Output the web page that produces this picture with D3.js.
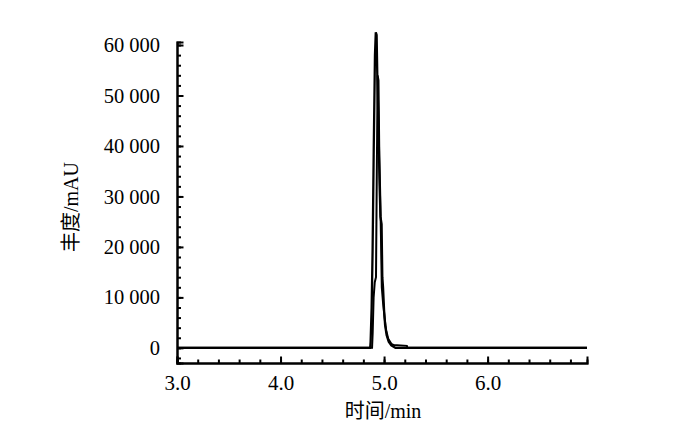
<!DOCTYPE html>
<html><head><meta charset="utf-8">
<script src="https://cdn.jsdelivr.net/npm/d3@7/dist/d3.min.js"></script>
<style>body{margin:0;background:#fff}svg{display:block}</style>
</head><body>
<svg id="c" width="690" height="442"></svg>
<script>
// Data
const xTicks = [3, 4, 5, 6];
const xTickLabels = ["3.0", "4.0", "5.0", "6.0"];
const yTicks = [0, 10000, 20000, 30000, 40000, 50000, 60000];
const yTickLabels = ["0", "10 000", "20 000", "30 000", "40 000", "50 000", "60 000"];
const traceATime = [3.00, 4.866, 4.870, 4.880, 4.889, 4.900, 4.912, 4.920, 4.928, 4.935, 4.945, 4.957, 4.965, 4.976, 4.983, 4.990, 5.000, 5.010, 5.025, 5.045, 5.070, 5.110, 6.96];
const traceAValue = [0, 0, 1200, 8000, 19000, 39000, 58000, 62500, 62000, 53500, 45000, 32000, 26000, 24500, 14000, 12000, 7500, 4500, 2500, 1200, 500, 0, 0];
const traceBTime = [3.00, 4.884, 4.890, 4.899, 4.910, 4.922, 4.930, 4.938, 4.946, 4.954, 4.962, 4.970, 4.978, 4.990, 5.005, 5.020, 5.040, 5.070, 5.100, 5.125, 5.220, 5.225, 6.96];
const traceBValue = [0, 0, 3000, 10000, 13000, 14000, 35000, 54000, 53000, 38000, 31000, 22000, 12000, 9000, 6000, 3500, 1800, 800, 500, 500, 400, 0, 0];
const xTitle = "时间/min";
const yTitle = "丰度/mAU";

const svg = d3.select("#c");
const font = "'Liberation Serif','Times New Roman','Noto Sans CJK SC',serif";
const x = d3.scaleLinear().domain([3, 6.96]).range([177, 587]);
const y = d3.scaleLinear().domain([-3000, 60600]).range([363, 42]);

// minor ticks
const xMinor = d3.range(3, 6.96, 0.2).map(v => +v.toFixed(1));
const yMinor = d3.range(-2000, 60001, 2000);

const gx = svg.append("g").attr("transform", "translate(0,363)");
gx.call(d3.axisBottom(x).tickValues(xMinor).tickSize(-3.5).tickFormat(""));
gx.append("g").call(d3.axisBottom(x).tickValues(xTicks).tickSize(-6.5).tickPadding(12)
  .tickFormat((d, i) => xTickLabels[i]));
gx.selectAll(".domain").attr("stroke", "#000").attr("stroke-width", 2);
gx.selectAll(".tick line").attr("stroke", "#000").attr("stroke-width", 2);
gx.selectAll("text").attr("font-family", font).attr("font-size", 21).attr("fill", "#000").attr("dy", "0.71em");

const gy = svg.append("g").attr("transform", "translate(177,0)");
gy.call(d3.axisLeft(y).tickValues(yMinor).tickSize(-4).tickFormat(""));
gy.append("g").call(d3.axisLeft(y).tickValues(yTicks).tickSize(-6.5).tickPadding(17)
  .tickFormat((d, i) => yTickLabels[i]));
gy.selectAll(".domain").attr("stroke", "#000").attr("stroke-width", 2);
gy.selectAll(".tick line").attr("stroke", "#000").attr("stroke-width", 2);
gy.selectAll("text").attr("font-family", font).attr("font-size", 20.5).attr("fill", "#000");

// traces
const line = d3.line().x(d => x(d[0])).y(d => y(d[1]));
const A = traceATime.map((t, i) => [t, traceAValue[i]]);
const B = traceBTime.map((t, i) => [t, traceBValue[i]]);
svg.append("path").datum(A).attr("d", line).attr("fill", "none").attr("stroke", "#000").attr("stroke-width", 2.3);
svg.append("path").datum(B).attr("d", line).attr("fill", "none").attr("stroke", "#000").attr("stroke-width", 2);

// titles
svg.append("text").attr("x", 383).attr("y", 418).attr("text-anchor", "middle")
  .attr("font-family", font).attr("font-size", 20).attr("fill", "#000").text(xTitle);
svg.append("text").attr("transform", "translate(78,207) rotate(-90)").attr("text-anchor", "middle")
  .attr("font-family", font).attr("font-size", 20).attr("fill", "#000").text(yTitle);
</script>
</body></html>
